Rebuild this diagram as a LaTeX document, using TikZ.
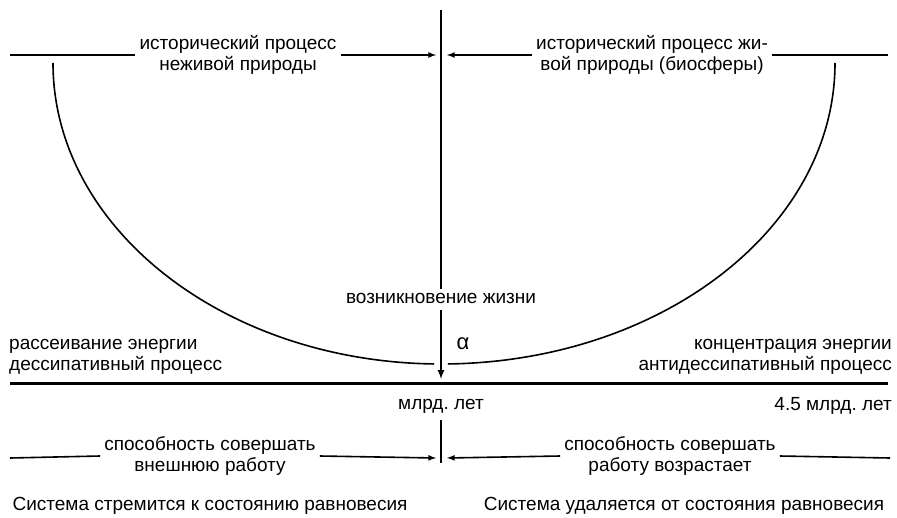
\documentclass[tikz,border=0pt]{standalone}
\usepackage{fontspec}
\setmainfont{Liberation Sans}
\usetikzlibrary{arrows}
\frenchspacing

\begin{document}
\begin{tikzpicture}[x=1pt,y=-1pt]

	\tikzstyle time lines=[line width=1.6pt];
	\tikzstyle axis line=[line width=3pt];
	\tikzstyle process arrows=[line width=1.6pt,-latex];
	\tikzstyle caption=[font=\fontsize{19}{21.5}\selectfont,align=center,inner sep=4pt];

	\useasboundingbox (0,0) rectangle (897,517);

	% upper part
	\node[caption] (dead) at (238,55) {исторический процесс\\неживой природы};
	\node[caption] (live) at (652,55) {исторический процесс жи-\\вой природы (биосферы)};
	\coordinate (tl) at (10,55);
	\coordinate (tr) at (888,55);
	\coordinate (tml) at (436,55);
	\coordinate (tmr) at (447,55);
	\draw[time lines] (tl) -- (dead.west);
	\draw[process arrows] (dead.east) -- (tml);
	\draw[time lines] (tr) -- (live.east);
	\draw[process arrows] (live.west) -- (tmr);

	\node[caption] (origin) at (441,298) {возникновение жизни};
	\node[caption,font=\fontsize{22}{24}\selectfont] (alpha) at (463,344) {α};
	\coordinate (vtop) at (441,10);
	\coordinate (vbot) at (441,379);
	\draw[line width=2pt] (vtop) -- (origin.north);
	\draw[process arrows,line width=2pt,shorten <=3pt] (origin.south) -- (vbot);

	% the curve
	\draw[time lines] (53,63) arc[start angle=180,end angle=91,x radius=388,y radius=301];
	\draw[time lines] (835,63) arc[start angle=0,end angle=89,x radius=394,y radius=301];

	\node[caption,align=left,anchor=west] (dissip) at (5,357) {рассеивание энергии\\дессипативный процесс};
	\node[caption,align=right,anchor=east] (antidissip) at (896,357) {концентрация энергии\\антидессипативный процесс};

	% time axis
	\coordinate (al) at (10,383);
	\coordinate (ar) at (888,383);
	\draw[axis line] (al) -- (ar);
	\node[caption] (now) at (441,406) {млрд. лет};
	\node[caption,anchor=east] (past) at (896,406) {4.5 млрд. лет};

	% lower part
	\node[caption] (work) at (210,456) {способность совершать\\внешнюю работу};
	\node[caption] (workup) at (670,456) {способность совершать\\работу возрастает};
	\coordinate (bl) at (10,458);
	\coordinate (br) at (890,458);
	\coordinate (bml) at (436,458);
	\coordinate (bmr) at (447,458);
	\coordinate (btop) at (441,420);
	\coordinate (bbot) at (441,463);
	\draw[line width=2pt] (btop) -- (bbot);
	\draw[time lines] (bl) -- (work.west);
	\draw[process arrows] (work.east) -- (bml);
	\draw[time lines] (br) -- (workup.east);
	\draw[process arrows] (workup.west) -- (bmr);

	\node[caption] (eqin) at (210,506) {Система стремится к состоянию равновесия};
	\node[caption] (eqout) at (684,506) {Система удаляется от состояния равновесия};

\end{tikzpicture}
\end{document}
